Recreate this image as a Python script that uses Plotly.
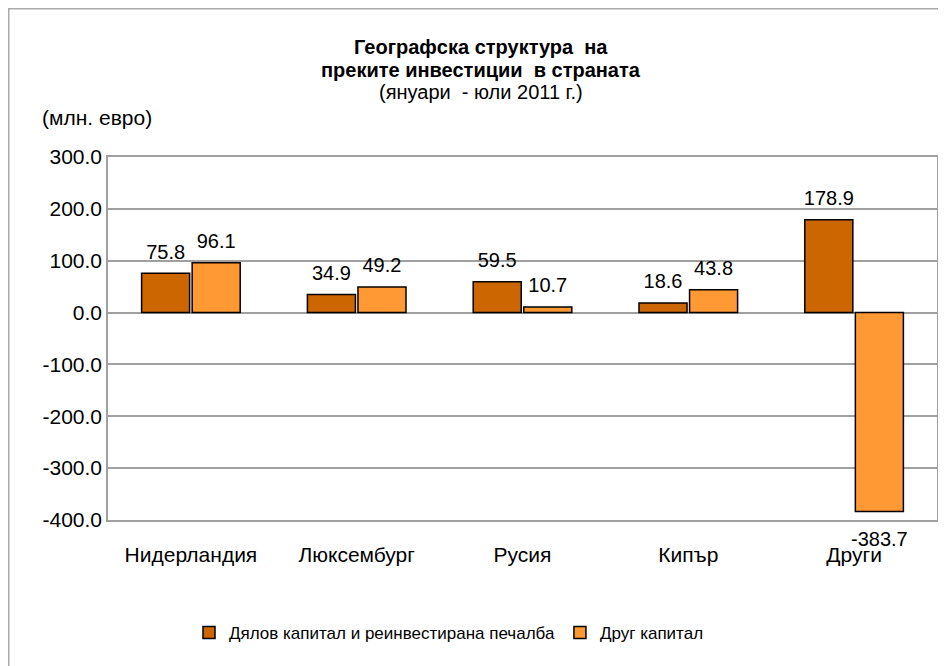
import plotly.graph_objects as go

categories = ["Нидерландия", "Люксембург", "Русия", "Кипър", "Други"]
equity = [75.8, 34.9, 59.5, 18.6, 178.9]
other_capital = [96.1, 49.2, 10.7, 43.8, -383.7]
series_names = ["Дялов капитал и реинвестирана печалба", "Друг капитал"]
tick_vals = [300, 200, 100, 0, -100, -200, -300, -400]
tick_text = ["300.0", "200.0", "100.0", "0.0", "-100.0", "-200.0", "-300.0", "-400.0"]
title_lines = ["Географска структура  на", "преките инвестиции  в страната", "(януари  - юли 2011 г.)"]
y_title = "(млн. евро)"

FONT = "Liberation Sans, Arial, sans-serif"
W, H = 946, 666
L, R, T, B = 100, 17, 149, 154
PW, PH = W - L - R, H - T - B
COLORS = ["#CC6600", "#FF9933"]


def px(xf):
    return (xf - L) / PW


def py(yf):
    return (H - B - yf) / PH


fig = go.Figure()
for name, vals, col in zip(series_names, [equity, other_capital], COLORS):
    fig.add_trace(go.Bar(
        x=categories, y=vals, name=name, offsetgroup=name,
        marker=dict(color=col, line=dict(color="#000000", width=1.5)),
    ))
for name, vals in zip(series_names, [equity, other_capital]):
    fig.add_trace(go.Scatter(
        x=categories, y=vals, mode="markers+text", offsetgroup=name, showlegend=False,
        # invisible markers only set the gap between each label and its bar end
        marker=dict(size=[14 if v >= 0 else 30 for v in vals], opacity=0, color="white"),
        text=[f"{v:.1f}" for v in vals],
        textposition=["top center" if v >= 0 else "bottom center" for v in vals],
        textfont=dict(size=20, color="#000000", family=FONT), cliponaxis=False,
        hoverinfo="skip",
    ))

fig.update_layout(
    width=W, height=H,
    margin=dict(l=L, r=R, t=T, b=B),
    paper_bgcolor="white", plot_bgcolor="white",
    font=dict(family=FONT, color="#000000"),
    barmode="group", bargap=0.39, bargroupgap=0.05,
    scattermode="group", scattergap=0.39,
    showlegend=True,
    legend=dict(orientation="h", x=px(181), y=py(625), xanchor="left", yanchor="middle",
                font=dict(size=17, family=FONT), tracegroupgap=0, bgcolor="rgba(0,0,0,0)"),
)
fig.update_xaxes(
    showline=True, linecolor="#A0A0A0", linewidth=1.5, mirror=True,
    tickfont=dict(size=21, family=FONT), ticks="", ticklabelstandoff=15,
)
fig.update_yaxes(
    range=[-400, 300], tickvals=tick_vals, ticktext=tick_text,
    showgrid=True, gridcolor="#A0A0A0", gridwidth=1.5,
    zeroline=True, zerolinecolor="#A0A0A0", zerolinewidth=1.5,
    showline=True, linecolor="#A0A0A0", linewidth=1.5, mirror=True,
    tickfont=dict(size=21, family=FONT), ticks="",
)

title_y = [39, 62, 84]
for i, line in enumerate(title_lines):
    txt = f"<b>{line}</b>" if i < 2 else line
    fig.add_annotation(text=txt, xref="paper", yref="paper", x=px(473), y=py(title_y[i]),
                       xanchor="center", yanchor="middle", showarrow=False,
                       font=dict(size=20, family=FONT, color="#000000"))

fig.add_annotation(text=y_title, xref="paper", yref="paper",
                   x=px(32), y=py(109), xanchor="left", yanchor="middle",
                   showarrow=False, font=dict(size=21, family=FONT))
fig.add_shape(type="rect", xref="paper", yref="paper",
              x0=px(0.75), x1=px(W + 20), y0=py(H + 20), y1=py(0.75),
              line=dict(color="#AAAAAA", width=1.5), fillcolor="rgba(0,0,0,0)", layer="below")

fig.write_html("out.html")
